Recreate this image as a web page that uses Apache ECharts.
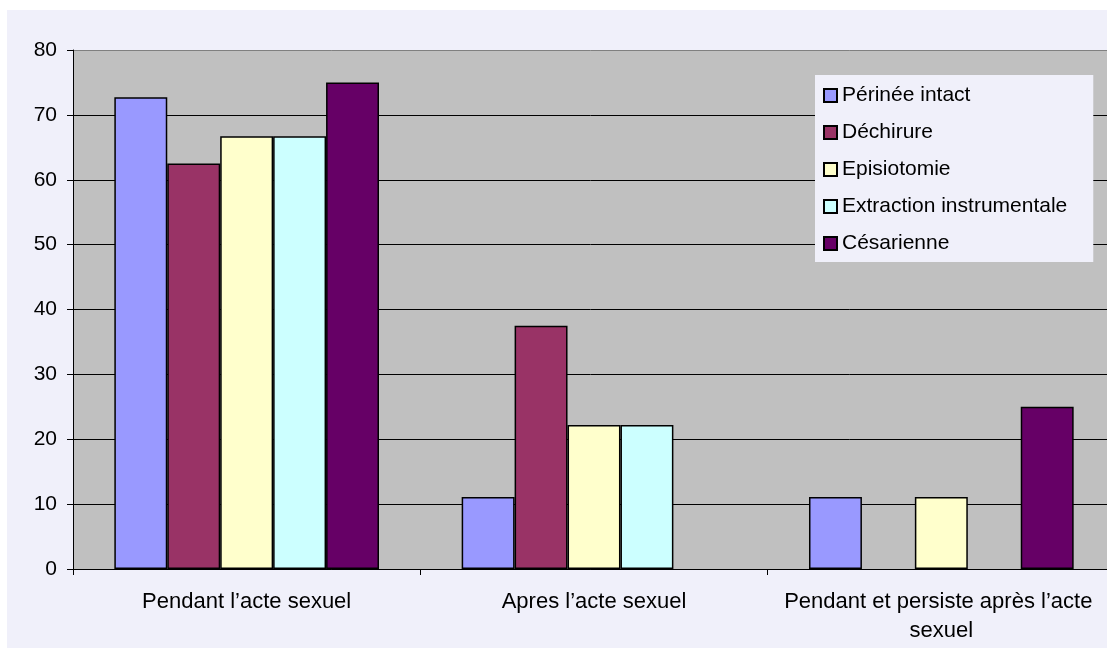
<!DOCTYPE html>
<html>
<head>
<meta charset="utf-8">
<script src="https://cdn.jsdelivr.net/npm/echarts@6/dist/echarts.min.js"></script>
<style>
  html, body { margin: 0; padding: 0; background: #fff; }
  #main { width: 1107px; height: 648px; }
</style>
</head>
<body>
<div id="main"></div>
<script>
// données
var categories = ["Pendant l’acte sexuel", "Apres l’acte sexuel", "Pendant et persiste après l’acte sexuel"];
var seriesNames = ["Périnée intact", "Déchirure", "Episiotomie", "Extraction instrumentale", "Césarienne"];
var perinee = [72.7, 11.1, 11.1];
var dechirure = [62.5, 37.5, 0];
var episiotomie = [66.7, 22.2, 11.1];
var extraction = [66.7, 22.2, 0];
var cesarienne = [75, 0, 25];
var yTicks = [0, 10, 20, 30, 40, 50, 60, 70, 80];

var colors = ["#9999FF", "#993366", "#FFFFCC", "#CCFFFF", "#660066"];
var values = [perinee, dechirure, episiotomie, extraction, cesarienne];
var font = "Liberation Sans, Arial, sans-serif";

var myChart = echarts.init(document.getElementById("main"));

var series = seriesNames.map(function (name, i) {
    return {
        name: name,
        type: "bar",
        // les barres à 0 ne sont pas dessinées (pas de trait sur l'axe)
        data: values[i].map(function (v) { return v === 0 ? "-" : v; }),
        barGap: "0%",
        barCategoryGap: "23.8%",
        itemStyle: {
            color: colors[i],
            borderColor: "#000",
            borderWidth: 1.5
        }
    };
});

var option = {
    backgroundColor: "#fff",
    animation: false,
    graphic: [{
        type: "rect",
        z: -10,
        silent: true,
        shape: { x: 7, y: 10, width: 1100, height: 638 },
        style: { fill: "#F0F0FA" }
    }],
    grid: {
        left: 73,
        top: 50,
        width: 1042,
        bottom: 79,
        outerBoundsMode: "none",
        containLabel: false,
        show: true,
        backgroundColor: "#C0C0C0",
        borderWidth: 0
    },
    legend: {
        orient: "vertical",
        left: 815,
        top: 75,
        padding: [10, 26, 8, 8],
        backgroundColor: "#F0F0FA",
        itemWidth: 13,
        itemHeight: 13,
        itemGap: 16,
        icon: "rect",
        data: seriesNames,
        textStyle: {
            fontFamily: font,
            fontSize: 21,
            color: "#000"
        }
    },
    xAxis: {
        type: "category",
        data: categories,
        axisLine: { show: true, lineStyle: { color: "#000", width: 1 } },
        axisTick: { show: true, length: 6, lineStyle: { color: "#000" } },
        axisLabel: {
            interval: 0,
            margin: 18,
            width: 345,
            overflow: "break",
            lineHeight: 29,
            fontFamily: font,
            fontSize: 22,
            color: "#000"
        }
    },
    yAxis: {
        type: "value",
        min: yTicks[0],
        max: yTicks[yTicks.length - 1],
        interval: 10,
        axisLine: { show: true, lineStyle: { color: "#000", width: 1 } },
        axisTick: { show: true, length: 6, lineStyle: { color: "#000" } },
        axisLabel: {
            margin: 16,
            fontFamily: font,
            fontSize: 21,
            color: "#000"
        },
        splitLine: {
            show: true,
            lineStyle: {
                color: ["#000", "#000", "#000", "#000", "#000", "#000", "#000", "#000", "#808080"],
                width: 1
            }
        }
    },
    series: series
};

myChart.setOption(option);
</script>
</body>
</html>
